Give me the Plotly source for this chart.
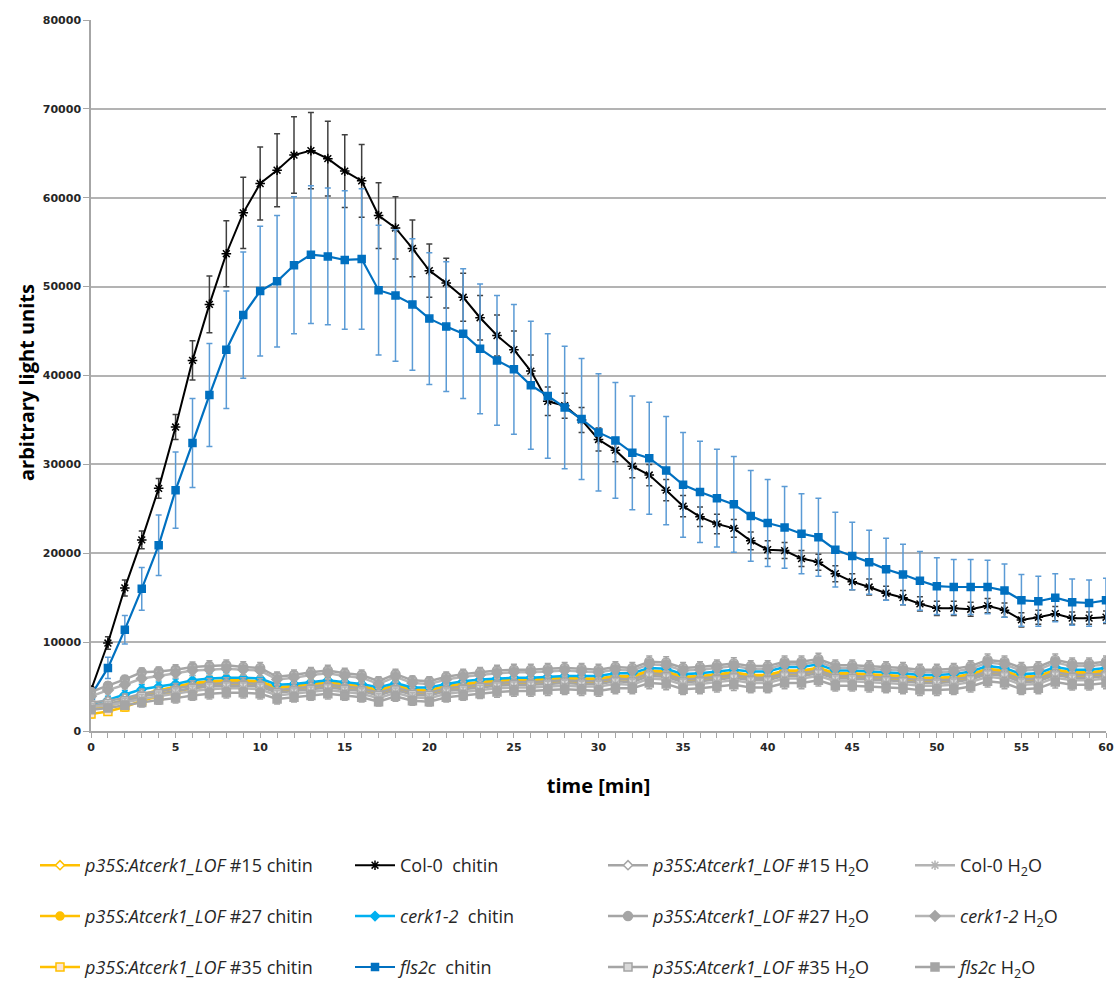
import plotly.graph_objects as go

time_min = list(range(0, 61))

col0_chitin = [4600, 9900, 16100, 21500, 27300, 34200, 41700, 48000, 53700, 58300, 61600, 63100, 64800, 65300, 64400, 63000, 61900, 58000, 56600, 54300, 51800, 50400, 48800, 46500, 44500, 42900, 40500, 37100, 36600, 35000, 32800, 31600, 29800, 28800, 27100, 25300, 24100, 23300, 22800, 21400, 20400, 20300, 19400, 19000, 17700, 16800, 16200, 15500, 15000, 14300, 13800, 13800, 13700, 14100, 13600, 12500, 12800, 13200, 12700, 12700, 12800]
col0_chitin_err = [400, 700, 900, 1000, 1100, 1400, 2200, 3200, 3700, 4000, 4100, 4100, 4300, 4300, 4200, 4100, 4100, 3700, 3500, 3200, 3000, 2800, 2700, 2500, 2300, 2100, 1800, 1600, 1400, 1400, 1300, 1300, 1300, 1200, 1200, 1200, 1100, 1100, 1000, 1000, 1000, 900, 900, 900, 900, 900, 900, 800, 800, 800, 800, 800, 800, 800, 800, 800, 800, 800, 700, 700, 700]

fls2c_chitin = [4000, 7100, 11400, 16000, 20900, 27100, 32400, 37800, 42900, 46800, 49500, 50600, 52400, 53600, 53400, 53000, 53100, 49600, 49000, 48000, 46400, 45500, 44700, 43000, 41700, 40700, 38900, 37700, 36400, 35100, 33600, 32700, 31300, 30700, 29300, 27700, 26900, 26200, 25500, 24200, 23400, 22900, 22200, 21800, 20400, 19700, 19000, 18200, 17600, 16900, 16300, 16200, 16200, 16200, 15800, 14700, 14600, 15000, 14500, 14400, 14700]
fls2c_chitin_err = [600, 1200, 1600, 2400, 3400, 4300, 5000, 5800, 6600, 7100, 7300, 7400, 7700, 7750, 7700, 7800, 7900, 7300, 7400, 7400, 7400, 7300, 7300, 7300, 7300, 7300, 7200, 7000, 6900, 6800, 6600, 6500, 6400, 6300, 6100, 5900, 5700, 5500, 5400, 5100, 4900, 4600, 4500, 4400, 4200, 3800, 3600, 3500, 3400, 3300, 3200, 3100, 3100, 3000, 3000, 2900, 2800, 2700, 2600, 2600, 2500]

cerk12_chitin = [3000, 3500, 4100, 4700, 5000, 5300, 5700, 5900, 6000, 6000, 5900, 5200, 5300, 5500, 5700, 5500, 5300, 4900, 5400, 4900, 4900, 5300, 5600, 5800, 5900, 6000, 6000, 6100, 6200, 6200, 6200, 6500, 6500, 7100, 7000, 6400, 6500, 6700, 6900, 6700, 6700, 7200, 7200, 7500, 6800, 6800, 6700, 6600, 6500, 6300, 6300, 6400, 6700, 7300, 7100, 6400, 6500, 7200, 6900, 6900, 7100]
lof15_chitin = [2700, 3000, 3500, 4100, 4600, 5000, 5400, 5600, 5700, 5700, 5600, 4900, 5100, 5300, 5500, 5300, 5100, 4600, 5200, 4700, 4600, 5100, 5300, 5500, 5700, 5800, 5800, 5900, 6000, 5900, 5900, 6200, 6200, 6800, 6700, 6100, 6200, 6400, 6600, 6300, 6300, 6800, 6800, 7100, 6500, 6500, 6400, 6300, 6200, 6000, 6000, 6100, 6400, 7000, 6800, 6100, 6200, 6900, 6600, 6600, 6800]
lof27_chitin = [2500, 2800, 3300, 3900, 4400, 4800, 5200, 5500, 5600, 5600, 5500, 4800, 5000, 5200, 5400, 5200, 5000, 4500, 5100, 4600, 4500, 5000, 5200, 5400, 5600, 5700, 5700, 5800, 5900, 5800, 5800, 6100, 6100, 6700, 6600, 6000, 6100, 6300, 6500, 6200, 6200, 6700, 6700, 7000, 6400, 6400, 6300, 6200, 6100, 5900, 5900, 6000, 6300, 6900, 6700, 6000, 6100, 6800, 6500, 6500, 6700]
lof35_chitin = [1900, 2200, 2700, 3400, 3900, 4400, 4800, 5100, 5200, 5200, 5100, 4500, 4700, 4900, 5100, 4900, 4700, 4200, 4800, 4300, 4200, 4700, 4900, 5100, 5300, 5400, 5400, 5500, 5600, 5500, 5500, 5800, 5800, 6400, 6300, 5700, 5800, 6000, 6200, 5900, 5900, 6400, 6400, 6700, 6100, 6100, 6000, 5900, 5800, 5600, 5600, 5700, 6000, 6600, 6400, 5700, 5800, 6500, 6200, 6200, 6400]

lof15_h2o = [3200, 3400, 3700, 4200, 4500, 4800, 5100, 5300, 5400, 5400, 5300, 4600, 4800, 5000, 5200, 5000, 4800, 4300, 4900, 4400, 4300, 4800, 5000, 5200, 5400, 5500, 5500, 5600, 5700, 5600, 5600, 5900, 5800, 6500, 6400, 5800, 5900, 6100, 6300, 6000, 6000, 6500, 6500, 6800, 6200, 6200, 6100, 6000, 5900, 5700, 5700, 5800, 6100, 6700, 6500, 5800, 5900, 6600, 6300, 6300, 6500]
lof27_h2o = [4400, 5100, 5800, 6600, 6700, 6900, 7200, 7300, 7400, 7200, 7100, 6100, 6300, 6600, 6800, 6500, 6300, 5600, 6400, 5700, 5600, 6100, 6400, 6600, 6800, 6900, 6900, 7000, 7100, 7000, 6900, 7200, 7100, 7800, 7700, 7100, 7200, 7400, 7600, 7300, 7300, 7800, 7800, 8100, 7400, 7400, 7300, 7200, 7100, 6900, 6900, 7000, 7300, 8000, 7800, 7100, 7200, 8000, 7600, 7600, 7800]
lof35_h2o = [2900, 3100, 3400, 3900, 4200, 4500, 4800, 5000, 5100, 5100, 5000, 4300, 4500, 4700, 4900, 4700, 4500, 4000, 4600, 4100, 4000, 4500, 4700, 4900, 5100, 5200, 5200, 5300, 5400, 5300, 5300, 5600, 5500, 6200, 6100, 5500, 5600, 5800, 6000, 5700, 5700, 6200, 6200, 6500, 5900, 5900, 5800, 5700, 5600, 5400, 5400, 5500, 5800, 6400, 6200, 5500, 5600, 6300, 6000, 6000, 6200]
col0_h2o = [2700, 2900, 3200, 3600, 3900, 4200, 4500, 4700, 4800, 4800, 4700, 4000, 4200, 4400, 4600, 4400, 4200, 3700, 4300, 3800, 3700, 4200, 4400, 4600, 4800, 4900, 4900, 5000, 5100, 5000, 5000, 5300, 5200, 5900, 5800, 5200, 5300, 5500, 5700, 5400, 5400, 5900, 5900, 6200, 5600, 5600, 5500, 5400, 5300, 5100, 5100, 5200, 5500, 6100, 5900, 5200, 5300, 6000, 5700, 5700, 5900]
cerk12_h2o = [3900, 4600, 5200, 5900, 6200, 6500, 6800, 6900, 7000, 6900, 6800, 5800, 6000, 6300, 6500, 6200, 6000, 5300, 6100, 5400, 5300, 5800, 6100, 6300, 6500, 6600, 6600, 6700, 6800, 6700, 6600, 6900, 6800, 7500, 7400, 6800, 6900, 7100, 7300, 7000, 7000, 7500, 7500, 7800, 7100, 7100, 7000, 6900, 6800, 6600, 6600, 6700, 7000, 7700, 7500, 6800, 6900, 7700, 7300, 7300, 7500]
fls2c_h2o = [2400, 2600, 2900, 3200, 3500, 3700, 4000, 4200, 4300, 4300, 4200, 3600, 3800, 4000, 4200, 4000, 3800, 3300, 3900, 3400, 3300, 3800, 4000, 4200, 4400, 4500, 4500, 4600, 4700, 4600, 4500, 4800, 4800, 5400, 5300, 4700, 4800, 5000, 5200, 4900, 4900, 5400, 5400, 5700, 5100, 5100, 5000, 4900, 4800, 4600, 4600, 4700, 5000, 5600, 5400, 4700, 4800, 5500, 5200, 5200, 5400]
low_err = [400, 400, 450, 500, 500, 550, 550, 600, 600, 600, 600, 550, 550, 550, 600, 550, 550, 500, 550, 500, 500, 550, 550, 550, 600, 600, 600, 600, 600, 600, 600, 600, 600, 650, 650, 600, 600, 600, 650, 600, 600, 650, 650, 650, 600, 600, 600, 600, 600, 600, 600, 600, 600, 650, 650, 600, 600, 650, 600, 600, 650]

x_tick_vals = [0, 5, 10, 15, 20, 25, 30, 35, 40, 45, 50, 55, 60]
y_tick_vals = [0, 10000, 20000, 30000, 40000, 50000, 60000, 70000, 80000]

LOF = "<i>p35S:Atcerk1_LOF</i>"
YEL = "#FFC000"
GRY = "#A5A5A5"

series = [
    (LOF + " #15 chitin", lof15_chitin, low_err, YEL, "diamond", "#FFFFFF", YEL, 7, 2.5, "legend", 1, YEL),
    (LOF + " #27 chitin", lof27_chitin, low_err, YEL, "circle", YEL, YEL, 8, 2.5, "legend", 2, YEL),
    (LOF + " #35 chitin", lof35_chitin, low_err, YEL, "square", "#FBE5D6", YEL, 8, 2.5, "legend", 3, YEL),
    ("Col-0\u00a0 chitin", col0_chitin, col0_chitin_err, "#000000", "asterisk-open", "#000000", "#000000", 8, 2, "legend2", 4, "#404040"),
    ("<i>cerk1-2</i>\u00a0 chitin", cerk12_chitin, low_err, "#00B0F0", "diamond", "#00B0F0", "#00B0F0", 7, 2.5, "legend2", 5, "#00B0F0"),
    ("<i>fls2c</i>\u00a0 chitin", fls2c_chitin, fls2c_chitin_err, "#0070C0", "square", "#0070C0", "#0070C0", 7, 2.2, "legend2", 6, "#5B9BD5"),
    (LOF + " #15 H<sub>2</sub>O", lof15_h2o, low_err, GRY, "diamond", "#FFFFFF", GRY, 7, 2.5, "legend3", 7, GRY),
    (LOF + " #27 H<sub>2</sub>O", lof27_h2o, low_err, GRY, "circle", GRY, GRY, 9, 2.5, "legend3", 8, GRY),
    (LOF + " #35 H<sub>2</sub>O", lof35_h2o, low_err, GRY, "square", "#D9D9D9", GRY, 8, 2.5, "legend3", 9, GRY),
    ("Col-0 H<sub>2</sub>O", col0_h2o, low_err, "#B4B4B4", "asterisk-open", "#B4B4B4", "#B4B4B4", 8, 2.5, "legend4", 10, "#B4B4B4"),
    ("<i>cerk1-2</i> H<sub>2</sub>O", cerk12_h2o, low_err, "#B4B4B4", "diamond", "#A5A5A5", "#A5A5A5", 8, 2.5, "legend4", 11, "#B4B4B4"),
    ("<i>fls2c</i> H<sub>2</sub>O", fls2c_h2o, low_err, GRY, "square", GRY, GRY, 8, 2.5, "legend4", 12, GRY),
]

fig = go.Figure()
for name, y, err, lc, sym, mfill, mline, msize, lw, leg, rank, ec in series:
    fig.add_trace(go.Scatter(
        x=time_min, y=y, name=name, mode="lines+markers",
        line=dict(color=lc, width=lw),
        marker=dict(symbol=sym, color=mfill, size=msize,
                    line=dict(color=mline, width=1.5)),
        error_y=dict(type="data", array=err, visible=True, color=ec,
                     thickness=1.5, width=3),
        legend=leg, legendrank=rank, legendgroup=name,
    ))

W, H = 1118, 981
leg_font = dict(family="Open Sans", size=18, color="#262626")
def legend_at(px, top):
    return dict(x=px / W, xref="container", xanchor="left",
                y=1 - top / H, yref="container", yanchor="top",
                orientation="v", bgcolor="rgba(0,0,0,0)", font=leg_font,
                tracegroupgap=24.5, itemwidth=40, traceorder="grouped")

tick_font = dict(family="DejaVu Sans", size=11, color="#262626", weight="bold")

fig.update_layout(
    width=W, height=H,
    margin=dict(l=91, r=12, t=20, b=250, autoexpand=False),
    paper_bgcolor="white", plot_bgcolor="white",
    showlegend=True,
    legend=legend_at(35, 847),
    legend2=legend_at(350, 847),
    legend3=legend_at(603, 847),
    legend4=legend_at(910, 847),
    xaxis=dict(
        range=[0, 60], tickvals=x_tick_vals, showgrid=False, zeroline=False,
        showline=True, linecolor="#A6A6A6", linewidth=1.5,
        ticks="outside", ticklen=5, tickcolor="#A6A6A6",
        minor=dict(dtick=1, ticks="outside", ticklen=5, tickcolor="#A6A6A6", showgrid=False),
        tickfont=tick_font,
        title=dict(text="<b>time [min]</b>", font=dict(family="Open Sans", size=20, color="#000000"), standoff=26),
    ),
    yaxis=dict(
        range=[0, 80000], tickvals=y_tick_vals, tickformat="d", showgrid=True,
        gridcolor="#B3B3B3", gridwidth=1.5, zeroline=False,
        showline=True, linecolor="#A6A6A6", linewidth=1.5,
        ticks="outside", ticklen=6, tickcolor="#A6A6A6",
        tickfont=tick_font,
    ),
    annotations=[dict(
        text="<b>arbitrary light units</b>", textangle=-90,
        xref="paper", yref="paper", x=(26 - 91) / 1015, y=(731 - 383) / 711,
        xanchor="center", yanchor="middle", showarrow=False,
        font=dict(family="Open Sans", size=20, color="#000000"),
    )],
)

fig.write_html("out.html")
